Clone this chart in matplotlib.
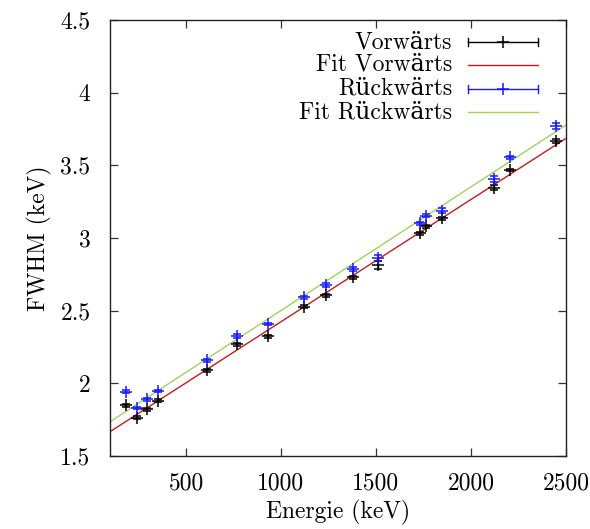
import numpy as np
import matplotlib
matplotlib.use("Agg")
import matplotlib.pyplot as plt

plt.rcParams["font.family"] = ["cmr10", "DejaVu Serif"]
plt.rcParams["mathtext.fontset"] = "cm"
plt.rcParams["axes.unicode_minus"] = False
plt.rcParams["axes.formatter.use_mathtext"] = False

# Gamma line energies (keV)
energy = [186, 242, 295, 352, 609, 768, 934, 1120, 1238, 1378, 1509,
          1730, 1764, 1847, 2119, 2204, 2448]

# Measured FWHM (keV), forward and backward detector
fwhm_vor = [1.850, 1.763, 1.821, 1.880, 2.091, 2.270, 2.325, 2.527, 2.605,
            2.729, 2.814, 3.032, 3.082, 3.135, 3.346, 3.468, 3.667]
err_vor = [0.010, 0.010, 0.010, 0.010, 0.010, 0.010, 0.010, 0.010, 0.012,
           0.012, 0.030, 0.012, 0.010, 0.012, 0.018, 0.010, 0.015]

fwhm_rueck = [1.942, 1.830, 1.889, 1.947, 2.160, 2.327, 2.408, 2.592, 2.676,
              2.786, 2.860, 3.101, 3.153, 3.188, 3.404, 3.555, 3.773]
err_rueck = [0.010, 0.010, 0.010, 0.010, 0.010, 0.012, 0.010, 0.010, 0.012,
             0.015, 0.020, 0.012, 0.010, 0.018, 0.020, 0.012, 0.020]

# Linear fit parameters: FWHM = a + b * E
fit_vor = (1.583, 0.000841)
fit_rueck = (1.650, 0.000851)

col_vor = "#000000"
col_fit_vor = "#cc1a1a"
col_rueck = "#1a1aff"
col_fit_rueck = "#a2d160"

FS = 17

fig = plt.figure(figsize=(5.90, 5.29), dpi=100)
ax = fig.add_axes([110 / 590, 73 / 529, 456 / 590, 436 / 529])

xmin, xmax = 100, 2500
e_line = np.array([xmin, xmax], dtype=float)

ax.plot(e_line, fit_vor[0] + fit_vor[1] * e_line, color=col_fit_vor, lw=1.0, zorder=2)
ax.plot(e_line, fit_rueck[0] + fit_rueck[1] * e_line, color=col_fit_rueck, lw=1.0, zorder=2)

ax.errorbar(energy, fwhm_vor, yerr=err_vor, fmt="+", color=col_vor, ms=8,
            mew=1.1, elinewidth=1.0, capsize=3, capthick=1.0, zorder=3)
ax.errorbar(energy, fwhm_rueck, yerr=err_rueck, fmt="+", color=col_rueck, ms=8,
            mew=1.1, elinewidth=1.0, capsize=3, capthick=1.0, zorder=3)

ax.set_xlim(xmin, xmax)
ax.set_ylim(1.5, 4.5)
ax.set_xticks([500, 1000, 1500, 2000, 2500])
ax.set_yticks([1.5, 2, 2.5, 3, 3.5, 4, 4.5])
ax.set_yticklabels(["1.5", "2", "2.5", "3", "3.5", "4", "4.5"])
ax.tick_params(direction="in", length=6, width=0.9, top=True, right=True,
               labelsize=FS, color="#333333")
ax.tick_params(axis="y", pad=14)
ax.tick_params(axis="x", pad=12)
for s in ax.spines.values():
    s.set_linewidth(1.0)
    s.set_color("#222222")

ax.set_xlabel("Energie (keV)", fontsize=FS, labelpad=4)
ax.set_ylabel("FWHM (keV)", fontsize=FS, labelpad=6)

# Key in the upper right corner: right-aligned labels with sample marks
labels = ["Vorwärts", "Fit Vorwärts", "Rückwärts", "Fit Rückwärts"]
rows = [0.9495, 0.897, 0.842, 0.789]
x_text = 0.75
x0, x1 = 0.785, 0.939
xm = 0.5 * (x0 + x1)
tr = ax.transAxes
for lab, yy in zip(labels, rows):
    ax.text(x_text, yy, lab, transform=tr, ha="right", va="center", fontsize=FS)

for yy, c in [(rows[0], col_vor), (rows[2], col_rueck)]:
    ax.plot([x0, x1], [yy, yy], color=c, lw=1.0, transform=tr, clip_on=False)
    ax.plot([x0, x0], [yy - 0.009, yy + 0.009], color=c, lw=1.0, transform=tr)
    ax.plot([x1, x1], [yy - 0.009, yy + 0.009], color=c, lw=1.0, transform=tr)
    ax.plot([xm], [yy], marker="+", ms=8, mew=1.1, color=c, transform=tr)
ax.plot([x0, x1], [rows[1], rows[1]], color=col_fit_vor, lw=1.0, transform=tr)
ax.plot([x0, x1], [rows[3], rows[3]], color=col_fit_rueck, lw=1.0, transform=tr)

fig.savefig("out.png", dpi=100)
